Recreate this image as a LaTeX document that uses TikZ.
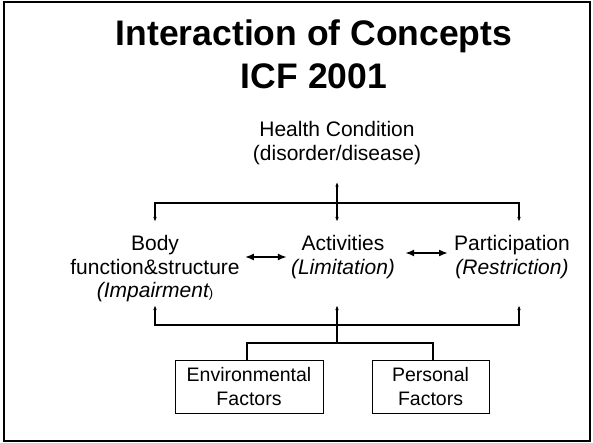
\documentclass[tikz,border=0pt]{standalone}
\usepackage{fontspec}
\setmainfont{Liberation Sans}
\usetikzlibrary{positioning,arrows.meta}

\begin{document}
\begin{tikzpicture}[x=1pt,y=-1pt,
  txt/.style={align=center,inner sep=0pt,font=\fontsize{21}{23.5}\selectfont},
  factor/.style={draw,thin,align=center,inner sep=0pt,minimum height=53pt,font=\fontsize{19.5}{24}\selectfont},
  link/.style={line width=1.4pt},
  tip/.style={link,-{Latex[length=5pt,width=3.5pt]}},
  both/.style={link,{Latex[length=5pt,width=3.5pt]}-{Latex[length=5pt,width=3.5pt]}},
  dbl/.style={line width=2pt,{Latex[length=9pt,width=7pt]}-{Latex[length=9pt,width=7pt]}}]
\useasboundingbox (0,0) rectangle (593,443);
\draw[line width=2pt] (4,2) rectangle (590,441);

% title
\node[align=center,inner sep=0pt,font=\bfseries\fontsize{35.5}{43}\selectfont] (title) at (314,54) {Interaction of Concepts\\ICF 2001};

\node[txt] (hc) at (337,143) {Health Condition\\(disorder/disease)};

\node[txt] (body) at (155,269) {Body\\function\&structure\\{\itshape(Impairment}{\fontsize{13}{24}\selectfont)}};
\node[txt] (act) at (343,257) {Activities\\\textit{(Limitation)}};
\node[txt] (part) at (512,257) {Participation\\\textit{(Restriction)}};

\node[factor,minimum width=148pt] (env) at (249,387) {Environmental\\Factors};
\node[factor,minimum width=117pt] (pers) at (430.5,387) {Personal\\Factors};

\coordinate (hub) at (337,203);
\coordinate (base) at (337,325);
\coordinate (fork) at (337,343);
\coordinate (uptip) at (337,305);
\coordinate (downtip) at (337,222);

% upper bus
\draw[both,shorten <=17pt] (hc.south) -- (downtip);
\draw[tip] (hub) -| (body.north |- downtip);
\draw[tip] (hub) -| ([xshift=7pt]part.north |- downtip);

% lower bus
\draw[tip] (base) -| (body.south |- uptip);
\draw[tip] (base) -| ([xshift=7pt]part.south |- uptip);
\draw[tip] (fork) -- (uptip);
\draw[link] ([xshift=-2pt]env.north) |- (fork) -| ([xshift=2.5pt]pers.north);

% between the three
\draw[dbl,shorten <=5pt,shorten >=4pt] (body.east |- act) -- (act.west);
\draw[dbl,shorten <=10pt,shorten >=6pt] ([yshift=4pt]act.east) -- ([yshift=4pt]act.east -| part.west);
\end{tikzpicture}
\end{document}
